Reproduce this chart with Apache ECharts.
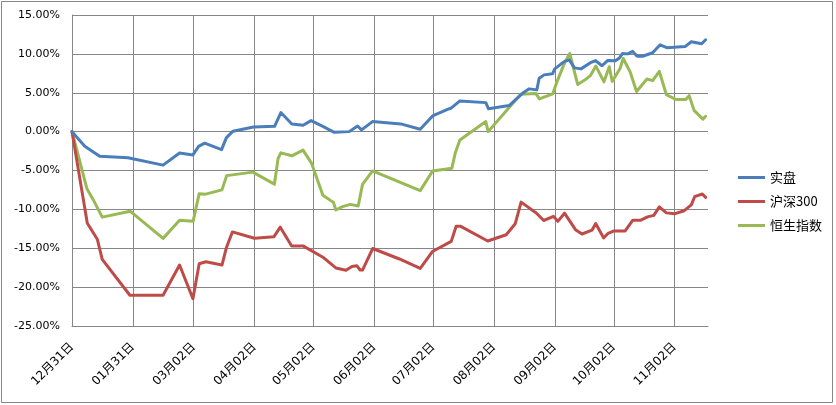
<!DOCTYPE html>
<html><head><meta charset="utf-8">
<script src="https://cdn.jsdelivr.net/npm/echarts@6/dist/echarts.min.js"></script>
<style>html,body{margin:0;padding:0;background:#fff}#c{width:836px;height:405px}</style>
</head><body><div id="c"></div>
<script>
// x axis: days since 12月31日
const tickDays = [0, 31, 62, 93, 123, 154, 184, 215, 246, 276, 307];
const tickLabels = ['12月31日','01月31日','03月02日','04月02日','05月02日','06月02日','07月02日','08月02日','09月02日','10月02日','11月02日'];
const seriesNames = ['实盘', '沪深300', '恒生指数'];

const shipanDays = [0,6.5,14.1,28.5,46.4,54.8,61.6,64.5,67.6,76.2,78.6,82,92.5,103.2,106.4,112,117.7,121.8,127.8,133.6,141.2,145.5,147.5,153.1,167.5,177.4,183.7,191.3,193,197.6,210.8,212.2,222.7,229.5,232.9,236.8,238,240.5,244.8,245.9,250.7,253.3,256,259.3,264.5,266.7,270,272.8,276.8,278.9,280.5,283.1,285.6,287.9,290.7,295.8,299.6,303,312.3,315.5,320.8,322.8];
const shipanValues = [0,-1.89,-3.18,-3.35,-4.31,-2.74,-3.0,-1.89,-1.48,-2.32,-0.81,0.06,0.6,0.68,2.45,0.99,0.81,1.42,0.67,-0.09,0,0.73,0.22,1.29,0.99,0.3,2.02,2.87,3.0,3.95,3.73,2.93,3.35,4.93,5.5,5.37,6.86,7.3,7.43,8.07,9.0,9.23,8.2,8.07,8.92,9.14,8.47,9.14,9.11,9.48,10.06,10.0,10.32,9.68,9.69,10.14,11.17,10.79,10.94,11.56,11.3,11.81];

const hs300Days = [0,7.8,12.9,15.4,29.5,46.4,54.8,61.6,64.8,68.2,76.4,78.6,81.7,92.9,102.9,106.1,111.9,117.7,127.8,134.4,139.6,142.6,145.1,146.8,148,153.2,166.8,177.4,183.6,193.2,195.7,197.8,211.8,221.2,225.8,228.8,236.5,240.3,245.3,247.5,250.9,256.5,259.8,264.9,266.8,270.8,272.9,276.1,281.8,285.7,289.8,293.2,296.4,299.2,302.8,307.2,311.9,315.5,317.2,321.1,322.8];
const hs300Values = [0,-11.78,-13.84,-16.43,-21.04,-21.04,-17.16,-21.49,-16.99,-16.73,-17.16,-14.97,-12.9,-13.71,-13.51,-12.29,-14.7,-14.7,-16.15,-17.53,-17.82,-17.35,-17.25,-17.79,-17.8,-15.03,-16.38,-17.59,-15.42,-14.12,-12.16,-12.16,-14.07,-13.26,-11.84,-9.07,-10.46,-11.43,-10.9,-11.54,-10.49,-12.61,-13.17,-12.68,-11.81,-13.67,-13.13,-12.78,-12.78,-11.39,-11.39,-10.96,-10.77,-9.68,-10.45,-10.55,-10.17,-9.42,-8.37,-8.02,-8.46];

const hsiDays = [0,7.6,10.8,15.4,29.6,46.4,54.8,61.7,64.8,68.1,76.4,78.8,92.1,103.1,105,106.4,112,117.7,122,127.8,133.2,134.4,137.8,141.8,145.8,148,153.1,177.4,183.7,193.5,195.2,197.6,210.8,212,228.6,236.4,238.1,241.5,244.9,247.5,251,253.6,257.6,261,264.1,266.9,271,273.7,275.2,279.2,280.8,284.3,287.6,292.9,295.8,299.2,302.8,307.6,312.7,314.4,316.9,321.4,322.8];
const hsiValues = [0,-7.34,-8.75,-11.0,-10.23,-13.73,-11.39,-11.54,-7.98,-8.04,-7.49,-5.66,-5.21,-6.76,-3.44,-2.73,-3.11,-2.38,-4.05,-8.17,-9.1,-10.08,-9.65,-9.36,-9.56,-6.78,-5.06,-7.59,-5.06,-4.72,-2.79,-1.07,1.29,0,4.8,4.89,4.21,4.54,4.86,6.69,8.88,10.04,6.07,6.6,7.21,8.43,6.4,8.34,6.46,8.11,9.4,7.7,5.15,6.76,6.56,7.75,4.74,4.14,4.14,4.63,2.73,1.61,1.97];

const colors = ['#4A7EBB', '#BE4B48', '#98B954'];
function pairs(d, v) { return d.map((x, i) => [x, v[i]]); }
const allData = [pairs(shipanDays, shipanValues), pairs(hs300Days, hs300Values), pairs(hsiDays, hsiValues)];

const chart = echarts.init(document.getElementById('c'), null, {renderer: 'canvas'});
const gridColor = '#868686';
chart.setOption({
  animation: false,
  backgroundColor: '#fff',
  textStyle: {fontFamily: 'DejaVu Sans, "Noto Sans CJK SC", sans-serif'},
  graphic: [{type: 'rect', shape: {x: 1.5, y: 1.5, width: 831, height: 401}, style: {fill: 'none', stroke: gridColor, lineWidth: 1}, silent: true}],
  grid: {left: 72, right: 128, top: 15, bottom: 79, containLabel: false},
  legend: {
    orient: 'vertical', left: 738, top: 171, padding: 0,
    itemWidth: 27, itemHeight: 3, itemGap: 11,
    icon: 'rect',
    textStyle: {fontSize: 13, color: '#000', fontFamily: '"Noto Sans CJK SC", sans-serif'},
    data: seriesNames
  },
  xAxis: {
    type: 'value', min: 0, max: 324,
    axisLine: {show: true, onZero: false, lineStyle: {color: gridColor, width: 1}},
    axisTick: {show: false, customValues: tickDays},
    splitLine: {show: true, lineStyle: {color: gridColor, width: 1}},
    axisLabel: {
      customValues: tickDays, rotate: 45, margin: 19,
      fontSize: 12, color: '#000', fontFamily: 'DejaVu Sans, "Noto Sans CJK SC", sans-serif',
      formatter: v => { const i = tickDays.indexOf(v); return i >= 0 ? tickLabels[i] : ''; }
    }
  },
  yAxis: {
    type: 'value', min: -25, max: 15, interval: 5,
    axisLine: {show: true, lineStyle: {color: gridColor, width: 1}},
    axisTick: {show: false},
    splitLine: {show: true, lineStyle: {color: gridColor, width: 1}},
    axisLabel: {fontSize: 11, color: '#000', margin: 12, formatter: v => v.toFixed(2) + '%'}
  },
  series: seriesNames.map((n, i) => ({
    name: n, type: 'line', data: allData[i], showSymbol: false, symbol: 'none',
    lineStyle: {color: colors[i], width: 3, join: 'round', cap: 'round'},
    itemStyle: {color: colors[i]}, z: 3 - i
  }))
});
</script></body></html>
